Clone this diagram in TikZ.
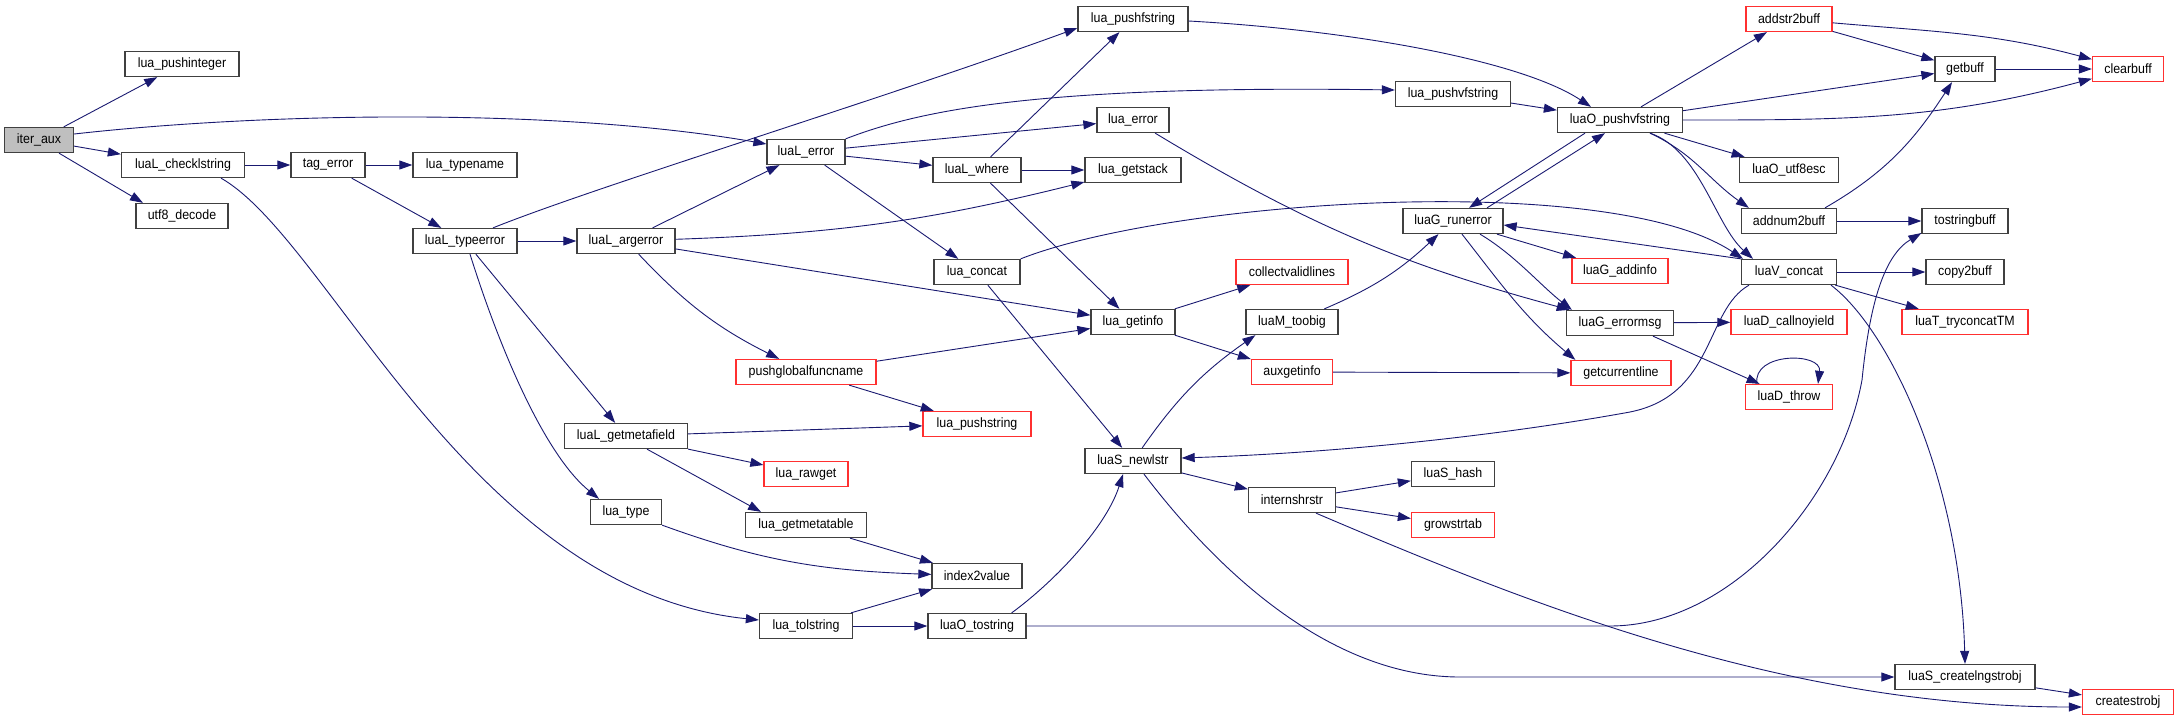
\documentclass[tikz,border=0pt]{standalone}
\usepackage{fontspec}
\setmainfont{Liberation Sans}[FakeStretch=0.92]
\usetikzlibrary{arrows.meta}
\definecolor{edgeblue}{RGB}{25,25,112}
\definecolor{boxgray}{RGB}{64,64,64}
\definecolor{truncred}{RGB}{255,48,48}
\definecolor{rootfill}{RGB}{191,191,191}
\tikzset{
  fn/.style={draw=boxgray,line width=1.3pt,fill=white,inner sep=0pt,minimum height=25pt,
    font=\fontsize{13.5}{16}\selectfont},
  trunc/.style={fn,draw=truncred},
  root/.style={fn,fill=rootfill},
  call/.style={draw=edgeblue,line width=0.9pt,-{Triangle[length=13pt,width=9pt]}}
}

\begin{document}
\begin{tikzpicture}[x=1pt,y=1pt]
    \useasboundingbox (0,0) rectangle (2179,-721);
    \node[root,minimum width=69]   (iteraux)      at (39,-140)  {iter\_aux};
    \node[fn,minimum width=114]    (pushint)      at (182,-64)  {lua\_pushinteger};
    \node[fn,minimum width=123]    (checklstr)    at (183,-165) {luaL\_checklstring};
    \node[fn,minimum width=92]     (utfdecode)    at (182,-216) {utf8\_decode};
    \node[fn,minimum width=74]     (tagerror)     at (328,-165) {tag\_error};
    \node[fn,minimum width=104]    (ltypename)    at (465,-165) {lua\_typename};
    \node[fn,minimum width=104]    (typeerror)    at (465,-241) {luaL\_typeerror};
    \node[fn,minimum width=98]     (argerror)     at (626,-241) {luaL\_argerror};
    \node[fn,minimum width=123]    (getmetafield) at (626,-436) {luaL\_getmetafield};
    \node[fn,minimum width=71]     (ltype)        at (626,-512) {lua\_type};
    \node[fn,minimum width=78]     (lerror)       at (806,-152) {luaL\_error};
    \node[trunc,minimum width=140] (pushglobal)   at (806,-372) {pushglobalfuncname};
    \node[trunc,minimum width=84]  (rawget)       at (806,-474) {lua\_rawget};
    \node[fn,minimum width=121]    (getmetatable) at (806,-525) {lua\_getmetatable};
    \node[fn,minimum width=93]     (tolstring)    at (806,-626) {lua\_tolstring};
    \node[fn,minimum width=88]     (lwhere)       at (977,-170) {luaL\_where};
    \node[fn,minimum width=86]     (concat)       at (977,-272) {lua\_concat};
    \node[trunc,minimum width=108] (pushstring)   at (977,-424) {lua\_pushstring};
    \node[fn,minimum width=90]     (indexvalue)   at (977,-576) {index2value};
    \node[fn,minimum width=98]     (otostring)    at (977,-626) {luaO\_tostring};
    \node[fn,minimum width=110]    (pushfstring)  at (1133,-19) {lua\_pushfstring};
    \node[fn,minimum width=72]     (errorfn)      at (1133,-120) {lua\_error};
    \node[fn,minimum width=96]     (getstack)     at (1133,-170) {lua\_getstack};
    \node[fn,minimum width=84]     (getinfo)      at (1133,-322) {lua\_getinfo};
    \node[fn,minimum width=96]     (newlstr)      at (1133,-461) {luaS\_newlstr};
    \node[trunc,minimum width=112] (validlines)   at (1292,-272) {collectvalidlines};
    \node[fn,minimum width=92]     (toobig)       at (1292,-322) {luaM\_toobig};
    \node[trunc,minimum width=81]  (auxinfo)      at (1292,-372) {auxgetinfo};
    \node[fn,minimum width=87]     (internshr)    at (1292,-500) {internshrstr};
    \node[fn,minimum width=115]    (pushvfstring) at (1453,-94) {lua\_pushvfstring};
    \node[fn,minimum width=100]    (runerror)     at (1453,-221) {luaG\_runerror};
    \node[fn,minimum width=83]     (shash)        at (1453,-474) {luaS\_hash};
    \node[trunc,minimum width=83]  (growtab)      at (1453,-525) {growstrtab};
    \node[fn,minimum width=125]    (luaOpush)     at (1620,-120) {luaO\_pushvfstring};
    \node[trunc,minimum width=96]  (addinfo)      at (1620,-271) {luaG\_addinfo};
    \node[fn,minimum width=107]    (errormsg)     at (1620,-323) {luaG\_errormsg};
    \node[trunc,minimum width=100] (curline)      at (1621,-373) {getcurrentline};
    \node[trunc,minimum width=86]  (addstr)       at (1789,-19) {addstr2buff};
    \node[fn,minimum width=99]     (utfesc)       at (1789,-170) {luaO\_utf8esc};
    \node[fn,minimum width=95]     (addnum)       at (1789,-221) {addnum2buff};
    \node[fn,minimum width=95]     (vconcat)      at (1789,-272) {luaV\_concat};
    \node[trunc,minimum width=116] (callnoyield)  at (1789,-322) {luaD\_callnoyield};
    \node[trunc,minimum width=87]  (dthrow)       at (1789,-397) {luaD\_throw};
    \node[fn,minimum width=60]     (getbuff)      at (1965,-69) {getbuff};
    \node[fn,minimum width=86]     (tostrbuff)    at (1965,-221) {tostringbuff};
    \node[fn,minimum width=78]     (copybuff)     at (1965,-272) {copy2buff};
    \node[trunc,minimum width=126] (tryconcat)    at (1965,-322) {luaT\_tryconcatTM};
    \node[fn,minimum width=140]    (createlng)    at (1965,-677) {luaS\_createlngstrobj};
    \node[trunc,minimum width=71]  (clearbuff)    at (2128,-69) {clearbuff};
    \node[trunc,minimum width=91]  (createstr)    at (2128,-702) {createstrobj};
    % calls
    \draw[call] (iteraux) -- (pushint);
    \draw[call] ([yshift=6]iteraux.east) .. controls (270,-112) and (560,-108) .. ([yshift=8]lerror.west);
    \draw[call] (iteraux) -- (checklstr);
    \draw[call] ([xshift=20]iteraux.south) -- ([xshift=-39]utfdecode.north);
    \draw[call] (checklstr) -- (tagerror);
    \draw[call] ([xshift=38]checklstr.south) .. controls (330,-240) and (470,-590) .. ([yshift=6]tolstring.west);
    \draw[call] (tagerror) -- (ltypename);
    \draw[call] (tagerror) -- (typeerror);
    \draw[call] ([xshift=28]typeerror.north) .. controls (600,-185) and (880,-100) .. ([yshift=-9]pushfstring.west);
    \draw[call] (typeerror) -- (argerror);
    \draw[call] (typeerror) -- (getmetafield);
    \draw[call] ([xshift=5]typeerror.south) .. controls (500,-350) and (545,-455) .. ([xshift=-27]ltype.north);
    \draw[call] (argerror) -- (lerror);
    \draw[call] (argerror) to[bend right=6] (getstack);
    \draw[call] (argerror) -- (getinfo);
    \draw[call] (argerror) to[bend right=10] (pushglobal);
    \draw[call] (lerror.north east) .. controls (920,-110) and (1040,-85) .. ([yshift=4]pushvfstring.west);
    \draw[call] (lerror) -- (errorfn);
    \draw[call] (lerror) -- (lwhere);
    \draw[call] (lerror) -- (concat);
    \draw[call] (lwhere) -- (getstack);
    \draw[call] (lwhere) -- (pushfstring);
    \draw[call] (lwhere) -- (getinfo);
    \draw[call] (concat.north east) .. controls (1170,-200) and (1610,-170) .. ([xshift=-46]vconcat.north);
    \draw[call] (concat) -- (newlstr);
    \draw[call] ([yshift=-2]pushfstring.east) .. controls (1350,-30) and (1520,-60) .. ([xshift=-29]luaOpush.north);
    \draw[call] (pushvfstring) -- (luaOpush);
    \draw[call] (errorfn) to[bend right=8] (errormsg);
    \draw[call] (getinfo) -- (validlines);
    \draw[call] (getinfo) -- (auxinfo);
    \draw[call] (pushglobal) -- (getinfo);
    \draw[call] (pushglobal) -- (pushstring);
    \draw[call] (getmetafield) -- (pushstring);
    \draw[call] (getmetafield) -- (rawget);
    \draw[call] ([xshift=21]getmetafield.south) -- ([xshift=-45]getmetatable.north);
    \draw[call] (ltype) to[out=-20,in=178] (indexvalue);
    \draw[call] (getmetatable) -- (indexvalue);
    \draw[call] (tolstring) -- (indexvalue);
    \draw[call] (tolstring) -- (otostring);
    \draw[call] ([xshift=-15]otostring.north east) .. controls (1050,-585) and (1105,-530) .. ([xshift=-10]newlstr.south);
    \draw[call] (otostring.east) -- (1610,-626) .. controls (1730,-626) and (1840,-500) .. (1862,-380)
      .. controls (1870,-300) and (1885,-255) .. ([yshift=-12]tostrbuff.west);
    \draw[call] (toobig) to[bend right=10] (runerror);
    \draw[call] (newlstr) to[out=55,in=215] ([xshift=10]toobig.south west);
    \draw[call] (newlstr) -- (internshr);
    \draw[call] ([xshift=11]newlstr.south) .. controls (1240,-600) and (1350,-677) .. (1460,-677) -- (createlng.west);
    \draw[call] (internshr) -- (shash);
    \draw[call] (internshr) -- (growtab);
    \draw[call] ([xshift=24]internshr.south) .. controls (1520,-600) and (1780,-707) .. ([yshift=-5]createstr.west);
    \draw[call] (auxinfo) -- (curline);
    \draw[call] ([xshift=34]runerror.north) -- ([xshift=-15]luaOpush.south);
    \draw[call] ([xshift=-35]luaOpush.south) -- ([xshift=16]runerror.north);
    \draw[call] (runerror) -- (addinfo);
    \draw[call] ([xshift=27]runerror.south) .. controls (1515,-255) and (1540,-285) .. ([xshift=6]errormsg.north west);
    \draw[call] ([xshift=9]runerror.south) to[out=-52,in=140] ([xshift=5]curline.north west);
    \draw[call] (errormsg) -- (callnoyield);
    \draw[call] ([xshift=33]errormsg.south) -- (dthrow);
    \draw[call] ([xshift=-32]dthrow.north) .. controls (1752,-352) and (1822,-352) .. ([xshift=29]dthrow.north);
    \draw[call] ([xshift=21]luaOpush.north) -- (addstr);
    \draw[call] (luaOpush) -- (getbuff);
    \draw[call] (luaOpush.east) to[out=0,in=195] (clearbuff);
    \draw[call] (luaOpush) -- (utfesc);
    \draw[call] ([xshift=30]luaOpush.south) to[out=-25,in=145] ([xshift=8]addnum.north west);
    \draw[call] ([xshift=30]luaOpush.south) .. controls (1700,-150) and (1715,-225) .. ([xshift=-36]vconcat.north);
    \draw[call] (addstr) -- (getbuff);
    \draw[call] (addstr) to[out=-5,in=165] (clearbuff);
    \draw[call] (getbuff) -- (clearbuff);
    \draw[call] ([xshift=36]addnum.north) to[out=30,in=237] ([xshift=-13]getbuff.south);
    \draw[call] (addnum) -- (tostrbuff);
    \draw[call] (vconcat.north west) -- ([yshift=-4]runerror.east);
    \draw[call] (vconcat) -- (copybuff);
    \draw[call] (vconcat) -- (tryconcat);
    \draw[call] ([xshift=-40]vconcat.south) .. controls (1705,-310) and (1715,-395) .. (1630,-412)
      .. controls (1520,-432) and (1360,-452) .. ([yshift=3]newlstr.east);
    \draw[call] ([xshift=42]vconcat.south) .. controls (1890,-330) and (1960,-480) .. (createlng.north);
    \draw[call] (createlng) -- (createstr);
\end{tikzpicture}
\end{document}
